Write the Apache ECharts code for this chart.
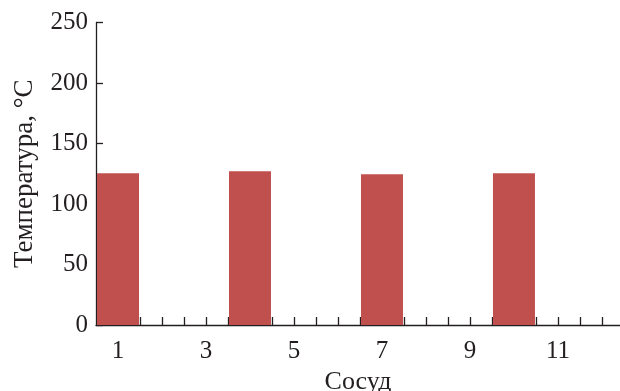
<!DOCTYPE html>
<html>
<head>
<meta charset="utf-8">
<script src="https://cdn.jsdelivr.net/npm/echarts@6/dist/echarts.min.js"></script>
<style>
html,body{margin:0;padding:0;background:#fff;}
#chart{width:620px;height:391px;}
</style>
</head>
<body>
<div id="chart"></div>
<script>
// Data
const vessels = [1, 4, 7, 10];
const temperatures = [125.5, 127, 124.5, 125.5];
const xTickLabels = [1, 3, 5, 7, 9, 11];
const xTickMarks = [1, 1.5, 2, 2.5, 3, 3.5, 4, 4.5, 5, 5.5, 6, 6.5, 7, 7.5, 8, 8.5, 9, 9.5, 10, 10.5, 11, 11.5, 12];
const yTicks = [0, 50, 100, 150, 200, 250];
const xName = 'Сосуд';
const yName = 'Температура, °C';

const seriesData = vessels.map((v, i) => [v, temperatures[i]]);
const font = 'Liberation Serif, Times New Roman, serif';
const ink = '#231f20';

const chart = echarts.init(document.getElementById('chart'));
chart.setOption({
  animation: false,
  grid: { left: 96, right: 0, top: 22.5, bottom: 66, containLabel: false, outerBoundsMode: 'none' },
  xAxis: {
    type: 'value',
    min: 0.5, max: 12.41,
    name: xName, nameLocation: 'middle', nameGap: 42,
    nameTextStyle: { fontFamily: font, fontSize: 26, color: ink },
    axisLine: { show: true, lineStyle: { color: ink, width: 1.3 } },
    axisTick: { show: true, inside: true, length: 8, customValues: xTickMarks, lineStyle: { color: ink, width: 1.3 } },
    splitLine: { show: false },
    axisLabel: {
      fontFamily: font, fontSize: 25, color: ink, margin: 14,
      customValues: xTickLabels
    }
  },
  yAxis: {
    type: 'value',
    min: yTicks[0], max: yTicks[yTicks.length - 1], interval: 50,
    name: yName, nameLocation: 'middle', nameGap: 58, nameRotate: 90,
    nameTextStyle: { fontFamily: font, fontSize: 27, color: ink },
    axisLine: { show: true, lineStyle: { color: ink, width: 1.3 } },
    axisTick: { show: true, inside: true, length: 7, lineStyle: { color: ink, width: 1.3 } },
    splitLine: { show: false },
    axisLabel: { fontFamily: font, fontSize: 25, color: ink, margin: 8 }
  },
  series: [{
    type: 'bar',
    data: seriesData,
    barWidth: 42,
    itemStyle: { color: '#c0504d' },
    z: 1
  }]
});
</script>
</body>
</html>
